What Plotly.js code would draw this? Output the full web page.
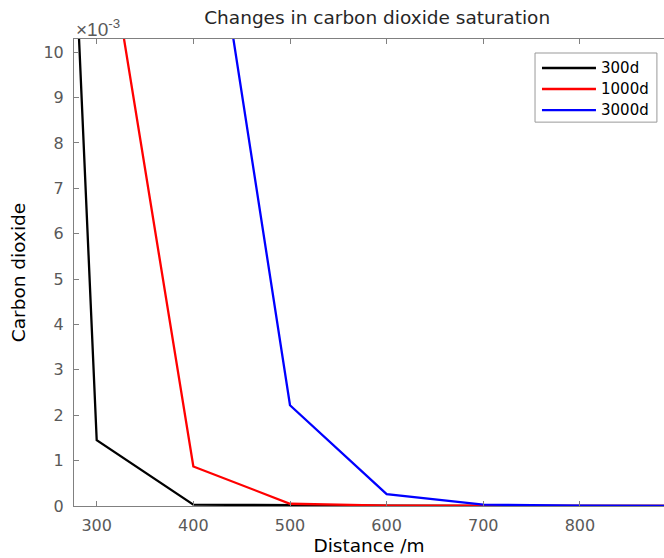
<!DOCTYPE html>
<html>
<head>
<meta charset="utf-8">
<script src="https://cdn.plot.ly/plotly-3.0.1.min.js"></script>
<style>html,body{margin:0;padding:0;background:#fff;}#chart{width:664px;height:558px;}</style>
</head>
<body>
<div id="chart"></div>
<script>
const distance = [200, 300, 400, 500, 600, 700, 800, 900];
const sat300d  = [0.0498, 0.00145, 0.00003, 0.00001, 0.000005, 0, 0, 0];
const sat1000d = [0.0140, 0.0140, 0.00087, 0.00005, 0.00001, 0.000005, 0, 0];
const sat3000d = [0.0160, 0.0160, 0.0160, 0.00222, 0.00026, 0.00003, 0.00001, 0];
const seriesNames = ['300d', '1000d', '3000d'];
const seriesColors = ['#000000', '#ff0000', '#0000ff'];
const yTickVals = [0, 0.001, 0.002, 0.003, 0.004, 0.005, 0.006, 0.007, 0.008, 0.009, 0.010];
const yTickText = ['0', '1', '2', '3', '4', '5', '6', '7', '8', '9', '10'];
const xTickVals = [300, 400, 500, 600, 700, 800];

const x1000 = distance.slice(1), y1000 = sat1000d.slice(1);
const x3000 = distance.slice(2), y3000 = sat3000d.slice(2);
const seriesX = [distance, x1000, x3000];
const seriesY = [sat300d, y1000, y3000];

const traces = seriesNames.map((n, i) => ({
  x: seriesX[i], y: seriesY[i], name: n, mode: 'lines', showlegend: false,
  line: {color: seriesColors[i], width: 2.3}
}));

// MATLAB-style legend box (drawn in paper coordinates)
const legendShapes = [{
  type: 'rect', xref: 'paper', yref: 'paper', x0: 0.7814, x1: 0.988, y0: 0.822, y1: 0.970,
  line: {color: '#999999', width: 1}, fillcolor: '#ffffff', layer: 'above'
}];
const legendAnnots = [];
seriesNames.forEach((n, i) => {
  const yy = 0.9379 - i * 0.045;
  legendShapes.push({type: 'line', xref: 'paper', yref: 'paper', x0: 0.7932, x1: 0.8847, y0: yy, y1: yy,
    line: {color: seriesColors[i], width: 2.3}, layer: 'above'});
  legendAnnots.push({xref: 'paper', yref: 'paper', x: 0.8895, y: yy, xanchor: 'left', yanchor: 'middle',
    text: n, showarrow: false, font: {family: 'DejaVu Sans, sans-serif', size: 15, color: '#000000'}});
});

const axisGray = '#808080';
const tickFont = {family: 'DejaVu Sans, sans-serif', size: 16, color: '#595959'};
const titleFamily = 'DejaVu Sans, sans-serif';

const layout = {
  width: 664, height: 558,
  margin: {l: 74, r: 0, t: 39, b: 52, pad: 0},
  paper_bgcolor: '#ffffff', plot_bgcolor: '#ffffff',
  showlegend: false,
  title: {text: 'Changes in carbon dioxide saturation', x: 0.568, xanchor: 'center', y: 0.968, yanchor: 'middle',
          font: {family: titleFamily, size: 18.5, color: '#262626'}},
  xaxis: {
    range: [276.5, 887], tickvals: xTickVals, ticks: 'inside', ticklen: 5, tickcolor: axisGray,
    showline: true, linecolor: axisGray, linewidth: 1, mirror: 'ticks', showgrid: false, zeroline: false,
    tickfont: tickFont, ticklabelstandoff: 5,
    title: {text: 'Distance /m', standoff: 1, font: {family: titleFamily, size: 18.5, color: '#000000'}}
  },
  yaxis: {
    range: [0, 0.01029], tickvals: yTickVals, ticktext: yTickText, ticks: 'inside', ticklen: 5, tickcolor: axisGray,
    showline: true, linecolor: axisGray, linewidth: 1, showgrid: false, zeroline: false,
    tickfont: tickFont, ticklabelstandoff: 6,
    title: {text: 'Carbon dioxide', standoff: 12, font: {family: titleFamily, size: 18.5, color: '#000000'}}
  },
  shapes: legendShapes,
  annotations: [{
    xref: 'paper', yref: 'paper', x: 0.0, y: 1.0, xanchor: 'left', yanchor: 'bottom', yshift: -3,
    text: '×10<sup>-3</sup>', showarrow: false,
    font: {family: 'Liberation Sans, Arial, sans-serif', size: 19, color: '#595959'}
  }].concat(legendAnnots)
};

Plotly.newPlot('chart', traces, layout, {displayModeBar: false, staticPlot: true});
</script>
</body>
</html>
